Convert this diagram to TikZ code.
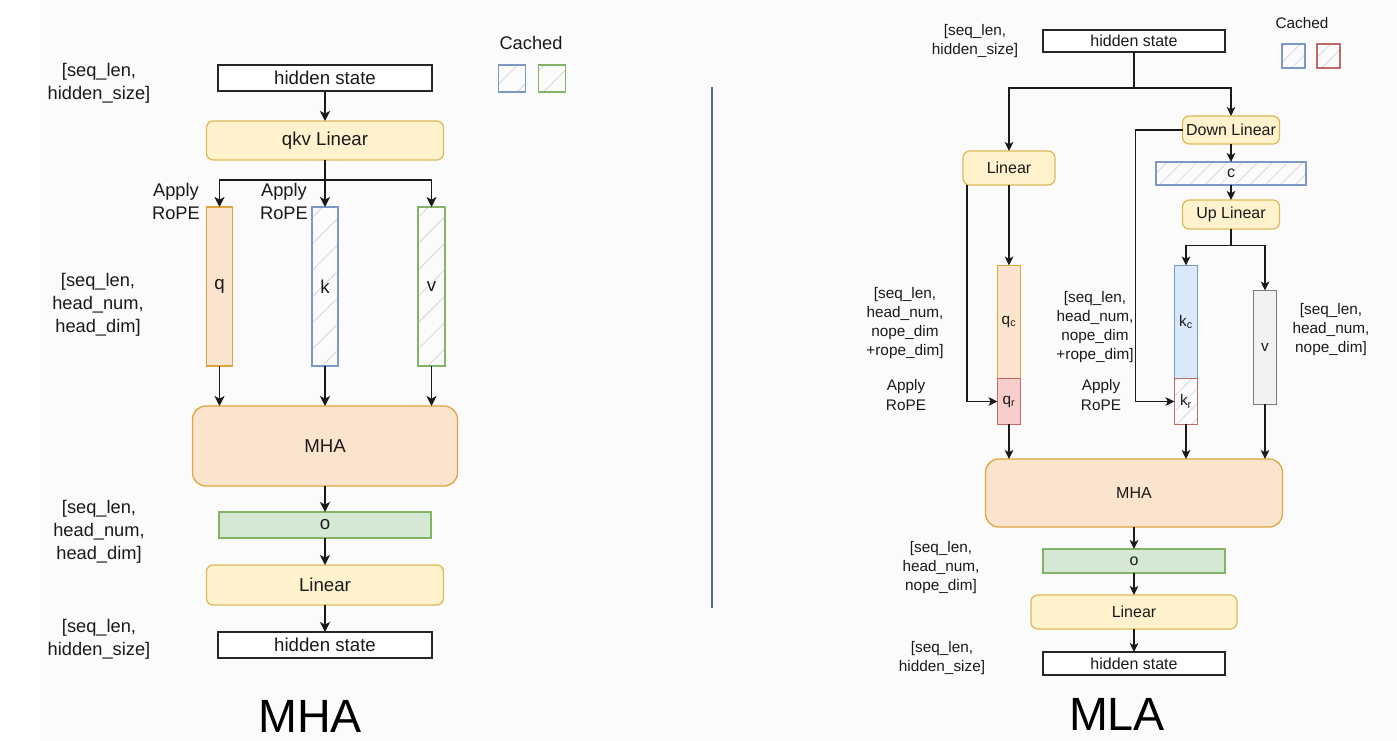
\documentclass[tikz,border=0pt]{standalone}
\usepackage{fontspec}
\setmainfont{Liberation Sans}
\usetikzlibrary{arrows.meta,patterns.meta,calc}

\definecolor{bgc}{HTML}{FBFBFB}
\definecolor{txt}{HTML}{1A1A1A}
\definecolor{edgeblk}{HTML}{262626}
\definecolor{ylwF}{HTML}{FFF2CC}
\definecolor{ylwD}{HTML}{DDB95A}
\definecolor{orgF}{HTML}{FAE4CE}
\definecolor{orgD}{HTML}{E0A43C}
\definecolor{grnF}{HTML}{D5E8D4}
\definecolor{grnD}{HTML}{82B366}
\definecolor{bluF}{HTML}{DAE8FC}
\definecolor{bluD}{HTML}{7C98C4}
\definecolor{redF}{HTML}{F8CECC}
\definecolor{redD}{HTML}{C06A66}
\definecolor{gryF}{HTML}{F2F2F2}
\definecolor{gryD}{HTML}{7A7A7A}
\definecolor{hatchc}{HTML}{D2D6DA}
\definecolor{divc}{HTML}{5C6C82}

\tikzset{
  px/.style 2 args={minimum width=#1*0.75pt, minimum height=#2*0.75pt},
  base/.style={inner sep=0pt, outer sep=0pt, line width=0.95pt, text=txt},
  fL/.style={font=\fontsize{13.7}{17.25}\selectfont},
  fLb/.style={font=\fontsize{14}{17}\selectfont},
  fR/.style={font=\fontsize{11.5}{14.3}\selectfont},
  fRb/.style={font=\fontsize{12}{14.5}\selectfont},
  plain/.style={base, draw=edgeblk, fill=white},
  ylw/.style={base, draw=ylwD, fill=ylwF, rounded corners=5pt},
  org/.style={base, draw=orgD, fill=orgF},
  grn/.style={base, draw=grnD, fill=grnF},
  blu/.style={base, draw=bluD, fill=bluF},
  red/.style={base, draw=redD, fill=redF},
  gry/.style={base, draw=gryD, fill=gryF},
  hatchL/.style={pattern={Lines[angle=45,distance=14pt,line width=0.6pt]}, pattern color=hatchc},
  hatchR/.style={pattern={Lines[angle=45,distance=8pt,line width=0.5pt]}, pattern color=hatchc},
  hB/.style={base, draw=bluD},
  hG/.style={base, draw=grnD},
  hR/.style={base, draw=redD},
  lbl/.style={align=center, text=txt, inner sep=0pt},
  arrL/.style={line width=1pt, draw=txt, -{Stealth[length=7.5pt,width=7.5pt,inset=2pt]}},
  arrR/.style={line width=0.9pt, draw=txt, -{Stealth[length=6.8pt,width=6.5pt,inset=1.8pt]}},
  title/.style={font=\fontsize{35}{40}\selectfont, text=black, inner sep=0pt},
}

\begin{document}
\begin{tikzpicture}[x=0.75pt, y=-0.75pt]
  % canvas
  \useasboundingbox (0,0) rectangle (1397,741);
  \fill[white] (0,0) rectangle (1397,741);
  \fill[bgc] (40,0) rectangle (1397,741);

  % ---------------- MHA ----------------
  \node[plain, px={214}{26}, fLb] (hsA) at (325,78) {hidden state};
  \node[ylw, px={237}{39}, fLb] (qkv) at (325,140.5) {qkv Linear};
  \node[org, px={26}{159}, fLb] (q) at (219.5,286.5) {q};
  \node[hB, hatchL, px={26}{159}, fLb] (k) at (325,286.5) {k};
  \node[hG, hatchL, px={27}{159}, fLb] (v) at (431.5,286.5) {v};
  \node[org, rounded corners=10pt, px={265}{80}, fLb] (mhaA) at (325,446) {MHA};
  \node[grn, px={212}{26}, fLb] (oA) at (325,525) {o};
  \node[ylw, px={237}{40}, fLb] (linA) at (325,585) {Linear};
  \node[plain, px={214}{26}, fLb] (hsA2) at (325,645) {hidden state};

  \draw[arrL] (hsA.south) -- (qkv.north);
  \draw[arrL] (qkv.south) -- (k.north);
  \draw[arrL] (qkv.south) -- ++(0,20) -| (q.north);
  \draw[arrL] (qkv.south) -- ++(0,20) -| (v.north);
  \draw[arrL] (q.south) -- (q.south |- mhaA.north);
  \draw[arrL] (k.south) -- (k.south |- mhaA.north);
  \draw[arrL] (v.south) -- (v.south |- mhaA.north);
  \draw[arrL] (mhaA.south) -- (oA.north);
  \draw[arrL] (oA.south) -- (linA.north);
  \draw[arrL] (linA.south) -- (hsA2.north);

  \node[lbl, fL] (lA1) at (99,83) {[seq\_len,\\hidden\_size]};
  \node[lbl, fL] (lA2) at (98,305) {[seq\_len,\\head\_num,\\head\_dim]};
  \node[lbl, fL] (lA3) at (99,532) {[seq\_len,\\head\_num,\\head\_dim]};
  \node[lbl, fL] (lA4) at (99,639) {[seq\_len,\\hidden\_size]};
  \node[lbl, fL] (rpA1) at (176,201.5) {Apply\\RoPE};
  \node[lbl, fL] (rpA2) at (284,201.5) {Apply\\RoPE};

  \node[lbl, fL] (cachA) at (531,42.5) {Cached};
  \node[hB, hatchL, px={27}{27}] (cachA1) at (512,78.5) {};
  \node[hG, hatchL, px={27}{27}] (cachA2) at (552,78.5) {};

  \node[title] (tA) at (310,716) {MHA};

  % divider between the two panels
  \draw[divc, line width=1.5pt] (712,87) -- (712,608);

  % ---------------- MLA ----------------
  \node[plain, px={182}{22}, fRb] (hsB) at (1134,41) {hidden state};
  \node[ylw, px={92}{34}, fRb] (linB) at (1009,168) {Linear};
  \node[ylw, px={97}{28}, fRb] (dlin) at (1231,130) {Down Linear};
  \node[hB, hatchR, px={150}{23}, fRb] (cB) at (1231,173.5) {c};
  \node[ylw, px={97}{29}, fRb] (ulin) at (1231,214.5) {Up Linear};
  \node[org, px={23}{113}, fR] (qc) at (1009,322) {q\textsubscript{c}};
  \node[red, px={23}{46}, fR] (qr) at (1009,401.5) {q\textsubscript{r}};
  \node[blu, px={23}{113}, fR] (kc) at (1186,322) {k\textsubscript{c}};
  \node[hR, hatchR, px={23}{46}, fR] (kr) at (1186,401.5) {k\textsubscript{r}};
  \node[gry, px={23}{114}, fR] (vB) at (1265,347.5) {v};
  \node[org, rounded corners=10pt, px={297}{68}, fRb] (mhaB) at (1134,493) {MHA};
  \node[grn, px={182}{24}, fRb] (oB) at (1134,561) {o};
  \node[ylw, px={206}{34}, fRb] (linB2) at (1134,612) {Linear};
  \node[plain, px={182}{23}, fRb] (hsB2) at (1134,663.5) {hidden state};

  \draw[arrR] (hsB.south) -- ++(0,36) -| (linB.north);
  \draw[arrR] (hsB.south) -- ++(0,36) -| (dlin.north);
  \draw[arrR] (dlin.south) -- (cB.north);
  \draw[arrR] (cB.south) -- (ulin.north);
  \draw[arrR] (ulin.south) -- ++(0,16.5) -| (kc.north);
  \draw[arrR] (ulin.south) -- ++(0,16.5) -| (vB.north);
  \draw[arrR] (linB.south) -- (qc.north);
  \draw[arrR] ([xshift=3pt]linB.south west) |- (qr.west);
  \draw[arrR] (dlin.west) -- ++(-47,0) |- (kr.west);
  \draw[arrR] (qr.south) -- (qr.south |- mhaB.north);
  \draw[arrR] (kr.south) -- (kr.south |- mhaB.north);
  \draw[arrR] (vB.south) -- (vB.south |- mhaB.north);
  \draw[arrR] (mhaB.south) -- (oB.north);
  \draw[arrR] (oB.south) -- (linB2.north);
  \draw[arrR] (linB2.south) -- (hsB2.north);

  \node[lbl, fR] (lB1) at (975,41.5) {[seq\_len,\\hidden\_size]};
  \node[lbl, fR] (lB2) at (905,323) {[seq\_len,\\head\_num,\\nope\_dim\\+rope\_dim]};
  \node[lbl, fR] (rpB1) at (906,395) {Apply\\RoPE};
  \node[lbl, fR] (lB3) at (1095,327) {[seq\_len,\\head\_num,\\nope\_dim\\+rope\_dim]};
  \node[lbl, fR] (rpB2) at (1101,395) {Apply\\RoPE};
  \node[lbl, fR] (lB4) at (1331,329.5) {[seq\_len,\\head\_num,\\nope\_dim]};
  \node[lbl, fR] (lB5) at (941,567.5) {[seq\_len,\\head\_num,\\nope\_dim]};
  \node[lbl, fR] (lB6) at (942,658.5) {[seq\_len,\\hidden\_size]};

  \node[lbl, fR] (cachB) at (1302,23) {Cached};
  \node[hB, hatchR, px={23}{24}] (cachB1) at (1293.5,56) {};
  \node[hR, hatchR, px={23}{24}] (cachB2) at (1328.5,56) {};

  \node[title] (tB) at (1117,714) {MLA};
\end{tikzpicture}
\end{document}
